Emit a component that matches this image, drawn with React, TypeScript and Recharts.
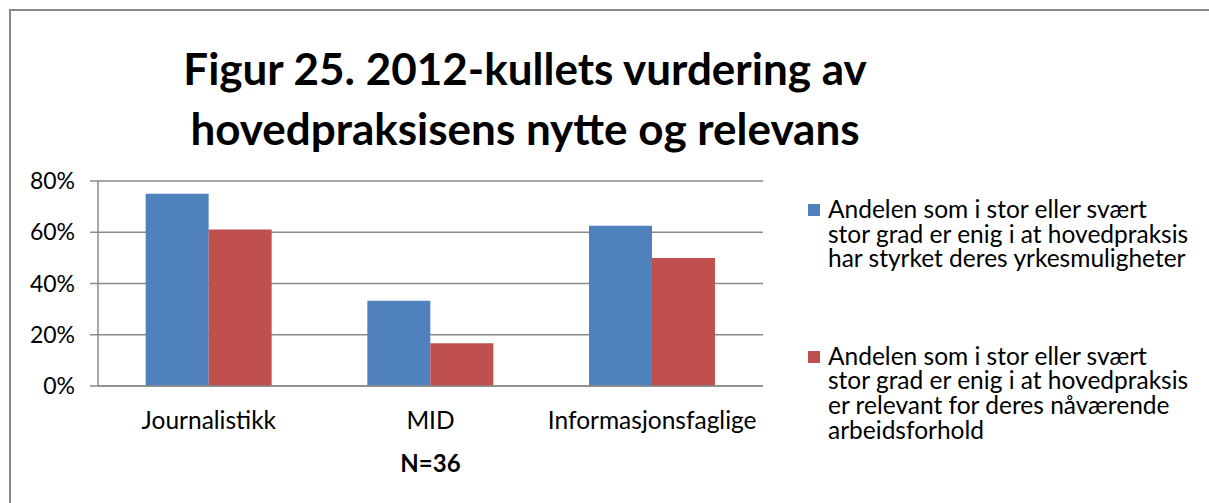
import { Bar, BarChart, CartesianGrid, Label, XAxis, YAxis } from 'recharts';

const categories = ['Journalistikk', 'MID', 'Informasjonsfaglige'];
const styrketYrke = [75, 33.3, 62.5];
const relevantArbeid = [61.1, 16.7, 50];
const yTicks = [0, 20, 40, 60, 80];

const series = [
  {
    key: 'styrket',
    color: '#4F81BD',
    name: 'Andelen som i stor eller svært\nstor grad er enig i at hovedpraksis\nhar styrket deres yrkesmuligheter',
  },
  {
    key: 'relevant',
    color: '#C0504D',
    name: 'Andelen som i stor eller svært\nstor grad er enig i at hovedpraksis\ner relevant for deres nåværende\narbeidsforhold',
  },
];

const data = categories.map((c, i) => ({
  category: c,
  styrket: styrketYrke[i],
  relevant: relevantArbeid[i],
}));

const FONT = 'Lato, "Noto Sans", sans-serif';
const GRID = '#8a8a8a';

export default function App() {
  return (
    <div
      style={{
        position: 'absolute',
        left: 0,
        top: 0,
        width: 1209,
        height: 503,
        background: '#fff',
        fontFamily: FONT,
        overflow: 'hidden',
      }}
    >
      {/* chart border (only top and left visible in the crop) */}
      <div
        style={{
          position: 'absolute',
          left: 9,
          top: 9,
          width: 1300,
          height: 600,
          borderTop: `2px solid ${GRID}`,
          borderLeft: `2px solid ${GRID}`,
        }}
      />
      <div
        style={{
          position: 'absolute',
          left: 125,
          top: 38,
          width: 800,
          textAlign: 'center',
          fontSize: 44,
          fontWeight: 700,
          lineHeight: '60px',
          color: '#000',
        }}
      >
        Figur 25. 2012-kullets vurdering av
        <br />
        hovedpraksisens nytte og relevans
      </div>

      <BarChart
        width={1209}
        height={503}
        data={data}
        margin={{ top: 181, right: 446, bottom: 31, left: 38 }}
        barCategoryGap='21.5%'
        barGap={0}
        style={{ position: 'absolute', left: 0, top: 0 }}
      >
        <CartesianGrid vertical={false} stroke={GRID} strokeWidth={1.5} />
        <XAxis
          dataKey='category'
          tickLine={false}
          tickSize={0}
          tickMargin={26}
          height={86}
          axisLine={{ stroke: GRID, strokeWidth: 1.5 }}
          tick={{ fontSize: 24.5, fill: '#000', fontFamily: FONT }}
        >
          <Label
            value='N=36'
            position='insideBottom'
            offset={0}
            style={{ fontSize: 24, fontWeight: 700, fill: '#000', fontFamily: FONT }}
          />
        </XAxis>
        <YAxis
          domain={[0, 80]}
          ticks={yTicks}
          width={60}
          tickSize={8}
          tickMargin={15}
          tickFormatter={(v) => `${v}%`}
          axisLine={{ stroke: GRID, strokeWidth: 1.5 }}
          tickLine={{ stroke: GRID, strokeWidth: 1.5 }}
          tick={{ fontSize: 23, fill: '#000', fontFamily: FONT }}
        />
        {series.map((s) => (
          <Bar key={s.key} dataKey={s.key} fill={s.color} isAnimationActive={false} />
        ))}
      </BarChart>

      {/* legend */}
      <div style={{ position: 'absolute', left: 808, top: 197 }}>
        {series.map((s, i) => (
          <div
            key={s.key}
            style={{ display: 'flex', alignItems: 'flex-start', marginBottom: i === 0 ? 73 : 0 }}
          >
            <div
              style={{
                width: 12,
                height: 12,
                background: s.color,
                marginTop: 7,
                marginRight: 8,
              }}
            />
            <div style={{ whiteSpace: 'pre-line', fontSize: 24.5, lineHeight: '24.6px', color: '#000' }}>
              {s.name}
            </div>
          </div>
        ))}
      </div>
    </div>
  );
}
